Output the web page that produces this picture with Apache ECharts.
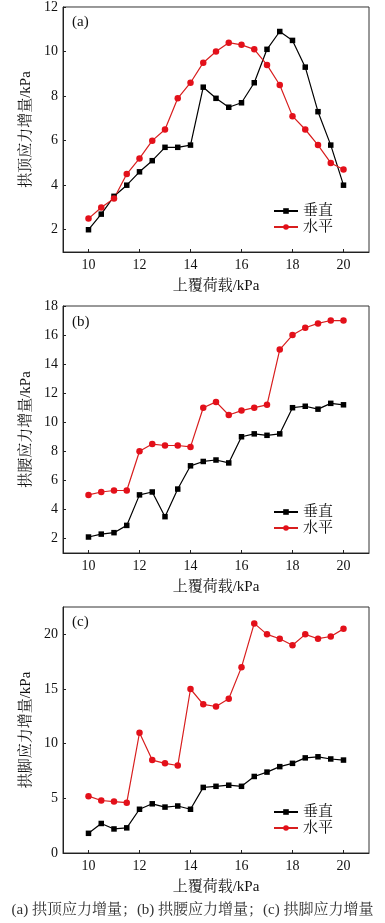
<!DOCTYPE html>
<html><head><meta charset="utf-8">
<script src="https://cdn.jsdelivr.net/npm/echarts@6/dist/echarts.min.js"></script>
<style>html,body{margin:0;padding:0;background:#fff}#c{width:385px;height:923px}</style>
</head><body><div id="c"></div>
<script>
const loads = [10,10.5,11,11.5,12,12.5,13,13.5,14,14.5,15,15.5,16,16.5,17,17.5,18,18.5,19,19.5,20];
const seriesNames = ['垂直','水平'];
// (a) 拱顶
const crownVertical   = [2.0,2.7,3.5,4.0,4.6,5.1,5.7,5.7,5.8,8.4,7.9,7.5,7.7,8.6,10.1,10.9,10.5,9.3,7.3,5.8,4.0];
const crownHorizontal = [2.5,3.0,3.4,4.5,5.2,6.0,6.5,7.9,8.6,9.5,10.0,10.4,10.3,10.1,9.4,8.5,7.1,6.5,5.8,5.0,4.7];
// (b) 拱腰
const waistVertical   = [2.1,2.3,2.4,2.9,5.0,5.2,3.5,5.4,7.0,7.3,7.4,7.2,9.0,9.2,9.1,9.2,11.0,11.1,10.9,11.3,11.2];
const waistHorizontal = [5.0,5.2,5.3,5.3,8.0,8.5,8.4,8.4,8.3,11.0,11.4,10.5,10.8,11.0,11.2,15.0,16.0,16.5,16.8,17.0,17.0];
// (c) 拱脚
const footVertical    = [1.8,2.7,2.2,2.3,4.0,4.5,4.2,4.3,4.0,6.0,6.1,6.2,6.1,7.0,7.4,7.9,8.2,8.7,8.8,8.6,8.5];
const footHorizontal  = [5.2,4.8,4.7,4.6,11.0,8.5,8.2,8.0,15.0,13.6,13.4,14.1,17.0,21.0,20.0,19.6,19.0,20.0,19.6,19.8,20.5];

const xTicks = [10,12,14,16,18,20];
const yTicksA = [2,4,6,8,10,12];
const yTicksB = [2,4,6,8,10,12,14,16,18];
const yTicksC = [0,5,10,15,20];
const yNames = ['拱顶应力增量/kPa','拱腰应力增量/kPa','拱脚应力增量/kPa'];
const xName = '上覆荷载/kPa';
const panelLabels = ['(a)','(b)','(c)'];
const caption = '(a) 拱顶应力增量；(b) 拱腰应力增量；(c) 拱脚应力增量';

const FONT = '"Liberation Serif", "Noto Serif CJK SC", "Noto Sans CJK SC", serif';
const grids = [
  {left:63, top:6, width:306, height:246},
  {left:63, top:306, width:306, height:247},
  {left:63, top:607, width:306, height:246}
];
const yRanges = [[1,12,yTicksA],[1,18,yTicksB],[0,22.5,yTicksC]];
const legendTops = [203.5, 504.5, 804.5];
const labelY = [22.5, 322.5, 622.5];
const data = [[crownVertical,crownHorizontal],[waistVertical,waistHorizontal],[footVertical,footHorizontal]];

const axisCommon = {
  axisLine:{show:true, lineStyle:{color:'#222', width:1}},
  axisTick:{show:true, inside:true, length:3, lineStyle:{color:'#222'}},
  splitLine:{show:false},
  axisLabel:{color:'#111', fontFamily:FONT, fontSize:14},
  nameTextStyle:{color:'#111', fontFamily:FONT, fontSize:15}
};

const option = {
  backgroundColor:'#fff',
  animation:false,
  grid: grids.map(g => Object.assign({show:true, borderColor:'#333', borderWidth:1, backgroundColor:'transparent'}, g)),
  xAxis: grids.map((g,i) => ({
    type:'value', gridIndex:i, min:9, max:21,
    name:xName, nameLocation:'middle', nameGap:27,
    axisLine:axisCommon.axisLine,
    axisTick:Object.assign({customValues:xTicks}, axisCommon.axisTick),
    axisLabel:Object.assign({customValues:xTicks, margin:6}, axisCommon.axisLabel),
    splitLine:{show:false},
    nameTextStyle:axisCommon.nameTextStyle
  })),
  yAxis: grids.map((g,i) => ({
    type:'value', gridIndex:i, min:yRanges[i][0], max:yRanges[i][1],
    name:yNames[i], nameLocation:'middle', nameGap:26,
    axisLine:axisCommon.axisLine,
    axisTick:Object.assign({customValues:yRanges[i][2]}, axisCommon.axisTick),
    axisLabel:Object.assign({customValues:yRanges[i][2], margin:5}, axisCommon.axisLabel),
    splitLine:{show:false},
    nameTextStyle:axisCommon.nameTextStyle
  })),
  legend: legendTops.map(t => ({
    data:seriesNames, orient:'vertical', left:273, top:t,
    itemWidth:24, itemHeight:7, itemGap:1, padding:0,
    textStyle:{color:'#111', fontFamily:FONT, fontSize:15}
  })),
  series: [],
  graphic: []
};

data.forEach((pair, i) => {
  option.series.push({
    name:seriesNames[0], type:'line', xAxisIndex:i, yAxisIndex:i,
    data: loads.map((x,k)=>[x,pair[0][k]]),
    symbol:'rect', symbolSize:5.5,
    lineStyle:{color:'#000', width:1.2},
    itemStyle:{color:'#000'}
  });
  option.series.push({
    name:seriesNames[1], type:'line', xAxisIndex:i, yAxisIndex:i,
    data: loads.map((x,k)=>[x,pair[1][k]]),
    symbol:'circle', symbolSize:6.5,
    lineStyle:{color:'#d81e1e', width:1.2},
    itemStyle:{color:'#e3101a'}
  });
  option.graphic.push({
    type:'text', left:72, top:labelY[i]-8,
    style:{text:panelLabels[i], font:'15px ' + FONT, fill:'#111'}
  });
});
option.graphic.push({
  type:'text', left:'center', top:903,
  style:{text:caption, font:'15px ' + FONT, fill:'#333'}
});

const chart = echarts.init(document.getElementById('c'), null, {renderer:'canvas'});
chart.setOption(option);
</script></body></html>
